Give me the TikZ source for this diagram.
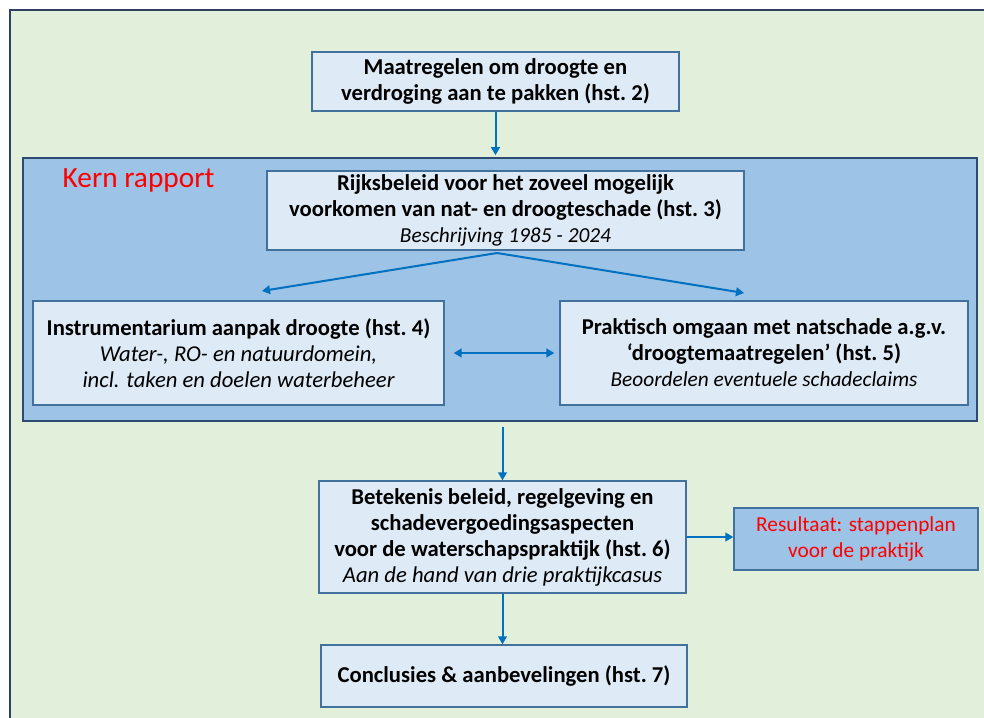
\documentclass[tikz,border=0pt]{standalone}
\usepackage{fontspec}
\setmainfont{Carlito}
\usetikzlibrary{arrows.meta,positioning}

\definecolor{bggreen}{HTML}{E2EFDA}
\definecolor{frameline}{HTML}{2F3F5F}
\definecolor{kernfill}{HTML}{9DC3E6}
\definecolor{kernline}{HTML}{2E4A70}
\definecolor{boxfill}{HTML}{DEEBF7}
\definecolor{boxline}{HTML}{41719C}
\definecolor{arrowblue}{HTML}{0070C0}
\definecolor{kernred}{HTML}{FF0000}

\newcommand{\sub}[1]{{\mdseries\itshape #1}}
\newcommand{\subs}[1]{{\mdseries\itshape\fontsize{16}{19.5}\selectfont #1}}

\begin{document}
\begin{tikzpicture}[x=0.75pt,y=-0.75pt,
    box/.style={draw=boxline,line width=1pt,fill=boxfill,align=center,
      inner sep=0pt,font=\bfseries\fontsize{17}{19.5}\selectfont},
    flow/.style={draw=arrowblue,line width=1.5pt,
      -{Triangle[length=6pt,width=6.5pt]}},
    dflow/.style={draw=arrowblue,line width=1.5pt,
      {Triangle[length=6pt,width=6.5pt]}-{Triangle[length=6pt,width=6.5pt]}}]

  \useasboundingbox (0,0) rectangle (984,717);
  \fill[white] (0,0) rectangle (984,717);
  \begin{scope}
    \clip (0,0) rectangle (984,717);
    \draw[frameline,line width=1.2pt,fill=bggreen] (10,10) rectangle (1000,730);
  \end{scope}

  % kern rapport
  \node[draw=kernline,line width=1.2pt,fill=kernfill,inner sep=0pt,
    minimum width=715.5pt,minimum height=197.25pt] (kern) at (500,289.5) {};
  \node[anchor=west,text=kernred,font=\fontsize{22}{26}\selectfont]
    (kerntitel) at (58,180) {Kern rapport};

  \node[box,minimum width=275.25pt,minimum height=44.25pt] (maatregel) at (495.5,81.5)
    {Maatregelen om droogte en\\verdroging aan te pakken (hst.~2)};

  \node[box,minimum width=357.75pt,minimum height=59.25pt] (rijk) at (505.5,210.5)
    {Rijksbeleid voor het zoveel mogelijk\\
     voorkomen van nat- en droogteschade (hst.~3)\\
     \subs{Beschrijving 1985 - 2024}};

  \node[box,minimum width=308.25pt,minimum height=78pt] (instr) at (238.5,353)
    {Instrumentarium aanpak droogte (hst.~4)\\
     \sub{Water-, RO- en natuurdomein,}\\
     \sub{incl. taken en doelen waterbeheer}};

  \node[box,minimum width=306pt,minimum height=78pt] (prakt) at (764,353)
    {Praktisch omgaan met natschade a.g.v.\\
     ‘droogtemaatregelen’ (hst.~5)\\
     \subs{Beoordelen eventuele schadeclaims}};

  \node[box,minimum width=275.25pt,minimum height=84pt] (betek) at (502.5,537)
    {Betekenis beleid, regelgeving en\\
     schadevergoedingsaspecten\\
     voor de waterschapspraktijk (hst.~6)\\
     \sub{Aan de hand van drie praktijkcasus}};

  \node[box,fill=kernfill,text=kernred,font=\fontsize{16}{19.5}\selectfont,
    minimum width=183pt,minimum height=46.5pt] (resultaat) at (856,539)
    {Resultaat: stappenplan\\voor de praktijk};

  \node[box,minimum width=274.5pt,minimum height=46.5pt] (concl) at (504,676)
    {Conclusies \& aanbevelingen (hst.~7)};

  % pijlen
  \coordinate (split) at (497,253);
  \coordinate (links) at (262,291);
  \coordinate (rechts) at (744,293);

  \draw[flow,shorten >=1.5pt] (maatregel.south) -- (maatregel.south |- kern.north);
  \draw[flow] (split) -- (links);
  \draw[flow] (split) -- (rechts);
  \draw[dflow,shorten <=6.75pt,shorten >=3.75pt] (instr.east) -- (prakt.west);
  \draw[flow,shorten <=3.75pt] (kern.south -| betek.north) -- (betek.north);
  \draw[flow] (betek.east) -- (betek.east -| resultaat.west);
  \draw[flow] (betek.south) -- (betek.south |- concl.north);
\end{tikzpicture}
\end{document}
